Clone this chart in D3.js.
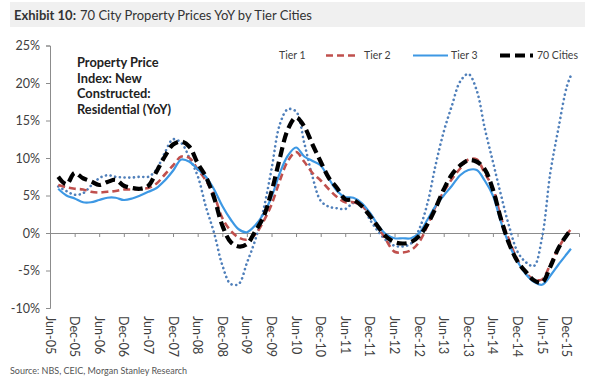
<!DOCTYPE html>
<html>
<head>
<meta charset="utf-8">
<script src="https://cdn.jsdelivr.net/npm/d3@7"></script>
<style>
  html, body { margin: 0; padding: 0; background: #fff; }
  svg { display: block; font-family: Lato, "Open Sans", sans-serif; }
</style>
</head>
<body>
<svg id="chart" width="600" height="382"></svg>
<script>
// ---- DATA ----
const months = [
  "2005-08","2005-10","2005-12","2006-02","2006-04","2006-06","2006-08","2006-10","2006-12",
  "2007-02","2007-04","2007-06","2007-08","2007-10","2007-12","2008-02","2008-04","2008-06",
  "2008-08","2008-10","2008-12","2009-02","2009-04","2009-06","2009-08","2009-10","2009-12",
  "2010-02","2010-04","2010-06","2010-08","2010-10","2010-12","2011-02","2011-04","2011-06",
  "2011-08","2011-10","2011-12","2012-02","2012-04","2012-06","2012-08","2012-10","2012-12",
  "2013-02","2013-04","2013-06","2013-08","2013-10","2013-12","2014-02","2014-04","2014-06",
  "2014-08","2014-10","2014-12","2015-02","2015-04","2015-06","2015-08","2015-10","2015-12","2016-01"
];
const tier1 = [
  6.2,5.6,5.1,5.3,6.3,7.3,7.7,7.5,7.4,
  7.4,7.5,7.5,8.5,10.7,12.5,12.0,10.0,7.6,
  3.5,0.0,-4.3,-6.8,-6.8,-4.0,-1.0,3.0,8.5,
  14.5,16.5,16.2,12.0,7.5,4.3,3.5,3.3,3.2,
  4.0,3.8,1.8,0.2,-1.0,-1.7,-1.8,-1.4,0.5,
  4.0,9.0,13.5,17.0,20.2,21.2,19.0,14.0,9.5,
  5.0,0.8,-2.5,-3.9,-4.4,-0.6,8.0,14.0,19.5,21.0
];
const tier2 = [
  6.4,6.1,5.9,5.8,5.5,5.4,5.5,5.6,5.8,
  5.8,5.9,6.0,6.6,7.8,9.0,10.2,10.0,8.5,
  7.0,5.0,2.0,0.3,-0.6,-0.9,-0.2,1.5,3.8,
  7.0,9.6,10.8,9.5,8.0,7.0,5.8,4.8,4.1,
  4.1,3.6,2.6,0.8,-1.0,-2.5,-2.6,-2.3,-1.2,
  1.0,3.5,5.5,7.2,8.6,9.8,9.8,8.0,6.0,
  2.0,-1.0,-3.6,-5.3,-6.2,-6.2,-4.2,-2.0,-0.2,0.5
];
const tier3 = [
  5.9,5.0,4.6,4.1,4.1,4.4,4.7,4.7,4.4,
  4.6,5.0,5.5,6.0,7.0,8.3,9.8,9.5,8.5,
  7.5,5.8,3.6,1.8,0.5,0.1,1.0,2.5,4.8,
  8.0,10.3,11.4,10.2,9.6,9.0,7.2,5.6,4.8,
  4.7,4.0,2.7,1.0,-0.2,-0.7,-0.7,-0.7,0.0,
  1.8,3.6,5.0,6.3,7.7,8.4,8.4,7.0,5.0,
  1.4,-1.6,-3.8,-5.5,-6.5,-6.9,-5.7,-4.2,-2.8,-2.1
];
const cities70 = [
  7.5,6.5,8.0,7.3,6.9,6.4,6.8,7.1,6.3,
  6.0,5.9,6.3,8.2,10.2,11.8,12.2,11.5,9.3,
  7.5,4.7,1.0,-1.2,-1.8,-1.5,0.2,2.1,5.5,
  10.0,13.8,15.4,14.2,11.8,9.5,7.3,6.0,4.5,
  4.4,3.6,2.3,0.8,-0.5,-1.2,-1.4,-1.2,-0.4,
  1.2,3.3,5.8,7.8,9.0,9.7,9.5,8.5,5.8,
  1.8,-1.5,-3.8,-5.2,-6.3,-6.6,-4.5,-2.0,-0.3,0.4
];
const yTicks = [-10, -5, 0, 5, 10, 15, 20, 25];
const xTickLabels = ["Jun-05","Dec-05","Jun-06","Dec-06","Jun-07","Dec-07","Jun-08","Dec-08",
  "Jun-09","Dec-09","Jun-10","Dec-10","Jun-11","Dec-11","Jun-12","Dec-12","Jun-13","Dec-13",
  "Jun-14","Dec-14","Jun-15","Dec-15"];
const seriesNames = ["Tier 1", "Tier 2", "Tier 3", "70 Cities"];
const titleBold = "Exhibit 10:";
const titleRest = "70 City Property Prices YoY by Tier Cities";
const noteLines = ["Property Price", "Index: New", "Constructed:", "Residential (YoY)"];
const sourceText = "Source: NBS, CEIC, Morgan Stanley Research";

// ---- SETUP ----
const svg = d3.select("#chart");
const parseM = d3.timeParse("%Y-%m");
const parseL = d3.timeParse("%b-%y");

const x = d3.scaleTime()
  .domain([new Date(2005, 5, 1), new Date(2016, 2, 1)])
  .range([50, 579]);
const y = d3.scaleLinear().domain([-10, 25]).range([308, 45.5]);

// title bar
svg.append("rect").attr("x", 10).attr("y", 2).attr("width", 575).attr("height", 25)
  .attr("fill", "#f0f0f0");
const title = svg.append("text").attr("x", 14).attr("y", 19.5)
  .attr("font-size", 13).attr("fill", "#333");
title.append("tspan").attr("font-weight", "bold").text(titleBold);
title.append("tspan").attr("dx", 4).text(titleRest);

// y axis
const yAxis = svg.append("g").attr("transform", "translate(50,0)")
  .call(d3.axisLeft(y).tickValues(yTicks).tickSize(4).tickPadding(6)
    .tickFormat(d => d + "%"));
yAxis.select(".domain").attr("stroke", "#8c8c8c");
yAxis.selectAll(".tick line").attr("stroke", "#8c8c8c");
yAxis.selectAll(".tick text").attr("font-size", 12.5).attr("fill", "#404040")
  .attr("font-family", "Lato, sans-serif");

// x axis line at zero with ticks
const xTickDates = xTickLabels.map(parseL);
const xAxis = svg.append("g").attr("transform", `translate(0,${y(0)})`)
  .call(d3.axisBottom(x).tickValues(xTickDates).tickSize(4).tickFormat(""));
xAxis.select(".domain").attr("stroke", "#8c8c8c");
xAxis.selectAll(".tick line").attr("stroke", "#8c8c8c");

// x labels at bottom, rotated
svg.append("g").selectAll("text").data(xTickLabels).join("text")
  .attr("transform", d => `translate(${x(parseL(d))},316) rotate(90)`)
  .attr("dy", "0.36em")
  .attr("font-size", 12.5).attr("fill", "#404040")
  .text(d => d);

// lines
const dates = months.map(parseM);
const line = d3.line().x((d, i) => x(dates[i])).y(d => y(d))
  .curve(d3.curveCatmullRom.alpha(0.5));

const styles = [
  { data: tier1, stroke: "#4f7fba", width: 2.6, dash: "0.1,4.6", cap: "round" },
  { data: tier2, stroke: "#c0504d", width: 2.6, dash: "7,4", cap: "butt" },
  { data: tier3, stroke: "#3d98e4", width: 2.2, dash: null, cap: "butt" },
  { data: cities70, stroke: "#000", width: 4.2, dash: "10,5", cap: "butt" }
];
styles.forEach(s => {
  svg.append("path").datum(s.data).attr("d", line)
    .attr("fill", "none").attr("stroke", s.stroke).attr("stroke-width", s.width)
    .attr("stroke-dasharray", s.dash).attr("stroke-linecap", s.cap)
    .attr("stroke-linejoin", "round");
});

// legend
const legend = svg.append("g").attr("font-size", 10.5).attr("fill", "#404040");
const legendItems = [
  { name: seriesNames[0], x1: null, x2: null, tx: 279, style: styles[0] },
  { name: seriesNames[1], x1: 326, x2: 357, tx: 364, style: styles[1] },
  { name: seriesNames[2], x1: 413, x2: 448, tx: 451, style: styles[2] },
  { name: seriesNames[3], x1: 500, x2: 533, tx: 537, style: styles[3] }
];
legendItems.forEach(it => {
  if (it.x1 !== null) {
    legend.append("line").attr("x1", it.x1).attr("x2", it.x2).attr("y1", 55.5).attr("y2", 55.5)
      .attr("stroke", it.style.stroke).attr("stroke-width", it.style.width)
      .attr("stroke-dasharray", it.style.dash);
  }
  legend.append("text").attr("x", it.tx).attr("y", 55.5).attr("dy", "0.35em").text(it.name);
});

// annotation
const note = svg.append("text").attr("font-size", 12.8).attr("font-weight", "bold").attr("fill", "#222");
noteLines.forEach((t, i) => {
  note.append("tspan").attr("x", 77).attr("y", 67 + i * 15.6).text(t);
});

// source
svg.append("text").attr("x", 10).attr("y", 374).attr("font-size", 9)
  .attr("fill", "#555").text(sourceText);
</script>
</body>
</html>
